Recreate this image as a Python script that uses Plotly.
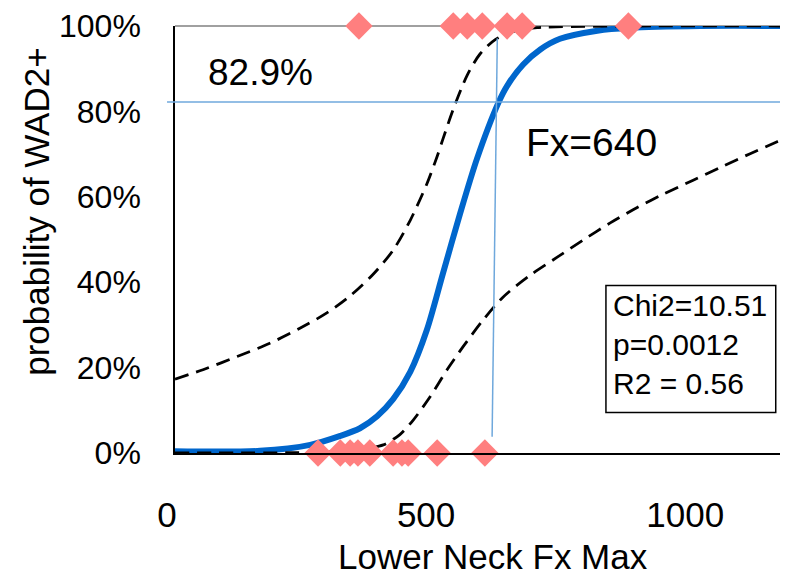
import plotly.graph_objects as go

# ---- data ----
fit_x = [0, 164, 261, 319, 357, 390, 421, 454, 486, 517, 550, 583, 624, 641, 672, 705, 743, 815, 878, 1014, 1183]
fit_p = [0.4, 0.5, 1.9, 4.0, 5.8, 8.6, 12.6, 19.0, 28.8, 42.0, 56.0, 69.0, 82.0, 86.0, 91.0, 94.5, 97.0, 98.9, 99.6, 100, 100]

upper_x = [0, 54, 120, 183, 241, 293, 338, 382, 421, 454, 486, 506, 517, 537, 564, 589, 618, 650, 699, 898, 1183]
upper_p = [17.3, 19.5, 22.6, 25.7, 29.2, 32.8, 36.8, 41.8, 47.5, 54.5, 63.0, 69.5, 73.5, 80.5, 88.5, 93.5, 96.8, 98.6, 99.6, 100, 100]

lower_x = [0, 241, 334, 367, 402, 434, 459, 492, 525, 556, 595, 633, 685, 737, 788, 840, 892, 942, 1000, 1058, 1110, 1162, 1183]
lower_p = [0, 0.1, 0.5, 1.0, 1.9, 4.3, 7.6, 13.1, 19.5, 24.9, 31.2, 36.5, 41.6, 45.8, 49.9, 53.9, 57.5, 60.6, 63.9, 67.2, 70.1, 72.9, 74.1]

neg_x = [276, 319, 338, 353, 376, 421, 438, 450, 506, 598]   # WAD2+ = 0
pos_x = [355, 537, 564, 593, 641, 670, 875]                  # WAD2+ = 1
neg_p = [0] * len(neg_x)
pos_p = [100] * len(pos_x)

thr_p = 82.2
thr_line_x = [612, 622]
thr_line_p = [3.8, 97.1]

x_ticks = [0, 500, 1000]
y_ticks = [0, 20, 40, 60, 80, 100]
y_ticktext = ["0%", "20%", "40%", "60%", "80%", "100%"]

FONT = "Liberation Sans, Arial, sans-serif"
BLUE = "#0066cc"
LIGHT = "#6fa8dc"
PINK = "#ff7f7f"

fig = go.Figure()
fig.add_trace(go.Scatter(x=fit_x, y=fit_p, mode="lines",
                         line=dict(color=BLUE, width=6, shape="spline", smoothing=0.8),
                         hoverinfo="skip", showlegend=False))
fig.add_trace(go.Scatter(x=lower_x, y=lower_p, mode="lines",
                         line=dict(color="black", width=2.8, dash="14px,8px", shape="spline", smoothing=0.8),
                         hoverinfo="skip", showlegend=False))
fig.add_trace(go.Scatter(x=upper_x, y=upper_p, mode="lines",
                         line=dict(color="black", width=2.8, dash="14px,8px", shape="spline", smoothing=0.8),
                         hoverinfo="skip", showlegend=False))
fig.add_trace(go.Scatter(x=neg_x, y=neg_p, mode="markers", cliponaxis=False,
                         marker=dict(symbol="diamond", size=21, color=PINK, line=dict(width=0)),
                         showlegend=False))
fig.add_trace(go.Scatter(x=pos_x, y=pos_p, mode="markers", cliponaxis=False,
                         marker=dict(symbol="diamond", size=21, color=PINK, line=dict(width=0)),
                         showlegend=False))

# threshold lines
fig.add_shape(type="line", xref="paper", yref="y", x0=-0.013, x1=1, y0=thr_p, y1=thr_p,
              line=dict(color=LIGHT, width=1.5), layer="above")
fig.add_shape(type="line", xref="x", yref="y", x0=thr_line_x[0], x1=thr_line_x[1],
              y0=thr_line_p[0], y1=thr_line_p[1], line=dict(color=LIGHT, width=1.5), layer="above")
# top border of plot area
fig.add_shape(type="line", xref="paper", yref="paper", x0=0, x1=1, y0=1, y1=1,
              line=dict(color="#808080", width=1.5), layer="below")
# stats box
fig.add_shape(type="rect", xref="paper", yref="paper", x0=0.703, x1=0.980, y0=0.095, y1=0.392,
              line=dict(color="black", width=1.5), fillcolor="white", layer="above")

fig.add_annotation(xref="paper", yref="paper", x=0.711, y=0.388, xanchor="left", yanchor="top",
                   text="Chi2=10.51<br>p=0.0012<br>R2 = 0.56", align="left", showarrow=False,
                   font=dict(family=FONT, size=30, color="black"))
fig.add_annotation(xref="paper", yref="paper", x=0.139, y=0.89, xanchor="center", yanchor="middle",
                   text="82.9%", showarrow=False, font=dict(family=FONT, size=37, color="black"))
fig.add_annotation(xref="paper", yref="paper", x=0.679, y=0.728, xanchor="center", yanchor="middle",
                   text="Fx=640", showarrow=False, font=dict(family=FONT, size=39, color="black"))
# axis titles
fig.add_annotation(xref="paper", yref="paper", x=0.519, y=-0.243, xanchor="center", yanchor="middle",
                   text="Lower Neck Fx Max", showarrow=False, font=dict(family=FONT, size=35, color="black"))
fig.add_annotation(xref="paper", yref="paper", x=-0.225, y=0.565, xanchor="center", yanchor="middle",
                   text="probability of WAD2+", textangle=-90, showarrow=False,
                   font=dict(family=FONT, size=35, color="black"))

fig.update_xaxes(range=[0, 1183], showgrid=False, zeroline=False, showline=True,
                 linecolor="black", linewidth=1.5, ticks="", tickvals=x_ticks,
                 ticktext=[str(v) for v in x_ticks], tickfont=dict(family=FONT, size=35, color="black"),
                 ticklabelstandoff=30, ticklabelshift=-8, ticklabeloverflow="allow")
fig.update_yaxes(range=[0, 100], showgrid=False, zeroline=False, showline=True,
                 linecolor="black", linewidth=1.5, ticks="", tickvals=y_ticks, ticktext=y_ticktext,
                 tickfont=dict(family=FONT, size=32, color="black"), ticklabelstandoff=26,
                 ticklabeloverflow="allow")

# the page body has an 8px margin, so the figure is drawn 8px smaller with smaller left/top margins
fig.update_layout(width=780, height=566, margin=dict(l=167, r=0, t=16, b=121),
                  paper_bgcolor="white", plot_bgcolor="white", showlegend=False,
                  font=dict(family=FONT))

fig.write_html("out.html")
